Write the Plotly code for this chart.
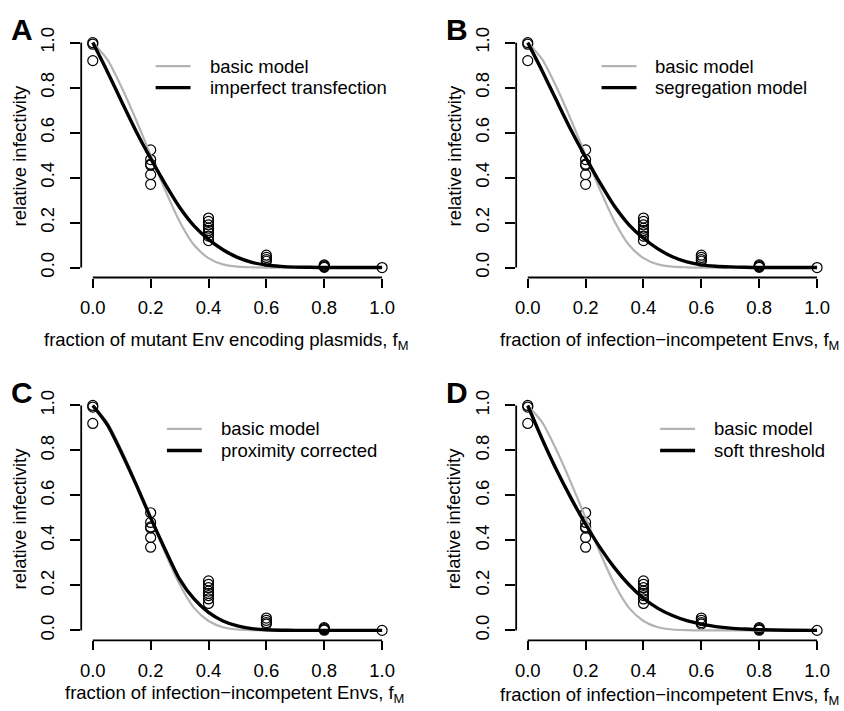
import plotly.graph_objects as go

# ---------------- data ----------------
fraction_grid = [0.0, 0.05, 0.1, 0.15, 0.2, 0.25, 0.3, 0.35, 0.4, 0.45, 0.5,
                 0.55, 0.6, 0.65, 0.7, 0.75, 0.8, 0.9, 1.0]
basic_model = [1.0, 0.925, 0.8, 0.655, 0.5, 0.345, 0.205, 0.1, 0.042, 0.014,
               0.004, 0.001, 0.0, 0.0, 0.0, 0.0, 0.0, 0.0, 0.0]
imperfect_transfection = [1.0, 0.872, 0.737, 0.605, 0.485, 0.372, 0.268,
                          0.185, 0.125, 0.079, 0.045, 0.023, 0.011, 0.005,
                          0.002, 0.001, 0.0, 0.0, 0.0]
segregation_model = [1.0, 0.874, 0.741, 0.61, 0.49, 0.376, 0.272, 0.19, 0.13,
                     0.083, 0.048, 0.025, 0.012, 0.006, 0.003, 0.001, 0.0,
                     0.0, 0.0]
proximity_corrected = [1.0, 0.915, 0.788, 0.648, 0.5, 0.36, 0.228, 0.14,
                       0.08, 0.042, 0.02, 0.008, 0.003, 0.001, 0.0, 0.0, 0.0,
                       0.0, 0.0]
soft_threshold = [1.0, 0.85, 0.712, 0.587, 0.472, 0.368, 0.278, 0.203, 0.143,
                  0.098, 0.066, 0.043, 0.028, 0.017, 0.01, 0.006, 0.003,
                  0.001, 0.0]

obs_fraction = [0.0, 0.0, 0.0,
                0.2, 0.2, 0.2, 0.2, 0.2, 0.2,
                0.4, 0.4, 0.4, 0.4, 0.4, 0.4, 0.4, 0.4,
                0.6, 0.6, 0.6, 0.6,
                0.8, 0.8, 0.8, 0.8,
                1.0]
obs_infectivity = [1.0, 0.993, 0.92,
                   0.523, 0.48, 0.46, 0.455, 0.413, 0.37,
                   0.22, 0.205, 0.19, 0.175, 0.165, 0.155, 0.14, 0.12,
                   0.055, 0.045, 0.035, 0.028,
                   0.012, 0.008, 0.004, 0.001,
                   0.0]

tick_values = [0.0, 0.2, 0.4, 0.6, 0.8, 1.0]
tick_labels = ["0.0", "0.2", "0.4", "0.6", "0.8", "1.0"]

panel_letters = ["A", "B", "C", "D"]
basic_name = "basic model"
model_names = ["imperfect transfection", "segregation model",
               "proximity corrected", "soft threshold"]
model_curves = [imperfect_transfection, segregation_model,
                proximity_corrected, soft_threshold]
x_titles = ["fraction of mutant Env encoding plasmids, f<sub>M</sub>",
            "fraction of infection\u2212incompetent Envs, f<sub>M</sub>",
            "fraction of infection\u2212incompetent Envs, f<sub>M</sub>",
            "fraction of infection\u2212incompetent Envs, f<sub>M</sub>"]
y_title = "relative infectivity"

# ---------------- layout geometry (pixels) ----------------
W, H = 844, 711
FONT = "Liberation Sans, Arial, Helvetica, sans-serif"
FS = 18.5
GRAY = "#b3b3b3"
GRAY_W, BLACK_W = 2.2, 3.4
col_off = [0, 436, 0, 436]
row_off = [0, 0, 367, 367]
PL, PR, PT, PB = 80.4, 393.6, 26.9, 272.6      # plot region of panel A
legend_text_x = [207, 654, 218.3, 712.7]
legend_rows = [59.7, 81.5]
xtitle_pos = [(226.5, 338), (670, 338), (234, 695), (670, 697)]
RANGE = [-0.04, 1.04]


def px(x):
    return x / W


def py(y):
    return 1 - y / H


fig = go.Figure()
layout = dict(width=W, height=H, margin=dict(l=0, r=0, t=0, b=0),
              paper_bgcolor="white", plot_bgcolor="white",
              font=dict(family=FONT, size=FS, color="black"),
              showlegend=False)
shapes, annotations = [], []

for i in range(4):
    n = i + 1
    xa = "x" if n == 1 else f"x{n}"
    ya = "y" if n == 1 else f"y{n}"
    dx, dy = col_off[i], row_off[i]
    l, r, t, b = PL + dx, PR + dx, PT + dy, PB + dy

    fig.add_trace(go.Scatter(
        x=obs_fraction, y=obs_infectivity, mode="markers", xaxis=xa, yaxis=ya,
        marker=dict(symbol="circle-open", size=10, color="black",
                    line=dict(width=1.2, color="black")),
        name="data", hoverinfo="skip"))
    fig.add_trace(go.Scatter(
        x=fraction_grid, y=basic_model, mode="lines", xaxis=xa, yaxis=ya,
        name=basic_name,
        line=dict(color=GRAY, width=GRAY_W, shape="spline", smoothing=0.7)))
    fig.add_trace(go.Scatter(
        x=fraction_grid, y=model_curves[i], mode="lines", xaxis=xa, yaxis=ya,
        name=model_names[i],
        line=dict(color="black", width=BLACK_W, shape="spline",
                  smoothing=0.7)))

    axis_common = dict(range=RANGE, tickvals=tick_values, ticktext=tick_labels,
                       ticks="outside", tickwidth=1.8, tickcolor="black",
                       showgrid=False, zeroline=False, showline=False,
                       tickfont=dict(family=FONT, size=FS, color="black"),
                       fixedrange=True)
    layout["xaxis" if n == 1 else f"xaxis{n}"] = dict(
        axis_common, domain=[px(l), px(r)], anchor="free",
        position=py(b + 1), ticklen=9, ticklabelstandoff=4)
    layout["yaxis" if n == 1 else f"yaxis{n}"] = dict(
        axis_common, domain=[py(b), py(t)], anchor=xa, ticklen=10,
        tickangle=-90, ticklabelstandoff=9)

    # axis lines (R style: only from first to last tick)
    span = RANGE[1] - RANGE[0]
    x0p = l + (0 - RANGE[0]) / span * (r - l)
    x1p = l + (1 - RANGE[0]) / span * (r - l)
    y0p = b - (0 - RANGE[0]) / span * (b - t)
    y1p = b - (1 - RANGE[0]) / span * (b - t)
    shapes.append(dict(type="line", xref="paper", yref="paper",
                       x0=px(x0p), x1=px(x1p), y0=py(b + 1), y1=py(b + 1),
                       line=dict(color="black", width=1.8)))
    shapes.append(dict(type="line", xref="paper", yref="paper",
                       x0=px(l), x1=px(l), y0=py(y0p), y1=py(y1p),
                       line=dict(color="black", width=1.8)))

    # legend (R style, top right of each panel)
    tx0 = legend_text_x[i]
    for name, color, width, ry in ((basic_name, GRAY, GRAY_W, legend_rows[0]),
                                   (model_names[i], "black", BLACK_W,
                                    legend_rows[1])):
        shapes.append(dict(type="line", xref="paper", yref="paper",
                           x0=px(tx0 - 52), x1=px(tx0 - 17),
                           y0=py(ry + dy), y1=py(ry + dy),
                           line=dict(color=color, width=width)))
        annotations.append(dict(text=name, xref="paper", yref="paper",
                                x=px(tx0), y=py(ry + dy), xanchor="left",
                                yanchor="middle", showarrow=False,
                                font=dict(family=FONT, size=FS,
                                          color="black")))

    annotations.append(dict(text=f"<b>{panel_letters[i]}</b>", xref="paper",
                            yref="paper", x=px(21 + dx), y=py(23 + dy),
                            xanchor="center", yanchor="middle", showarrow=False,
                            font=dict(family=FONT, size=30, color="black")))
    annotations.append(dict(text=y_title, xref="paper", yref="paper",
                            x=px(18.5 + dx), y=py((t + b) / 2),
                            xanchor="center", yanchor="middle", textangle=-90,
                            showarrow=False,
                            font=dict(family=FONT, size=FS, color="black")))
    tx, ty = xtitle_pos[i]
    annotations.append(dict(text=x_titles[i], xref="paper", yref="paper",
                            x=px(tx), y=py(ty), xanchor="center",
                            yanchor="middle", showarrow=False,
                            font=dict(family=FONT, size=FS, color="black")))

layout["shapes"] = shapes
layout["annotations"] = annotations
fig.update_layout(**layout)
fig.write_html("out.html", config={"displayModeBar": False},
               post_script="document.body.style.margin='0';"
                           "document.body.style.overflow='hidden';")
